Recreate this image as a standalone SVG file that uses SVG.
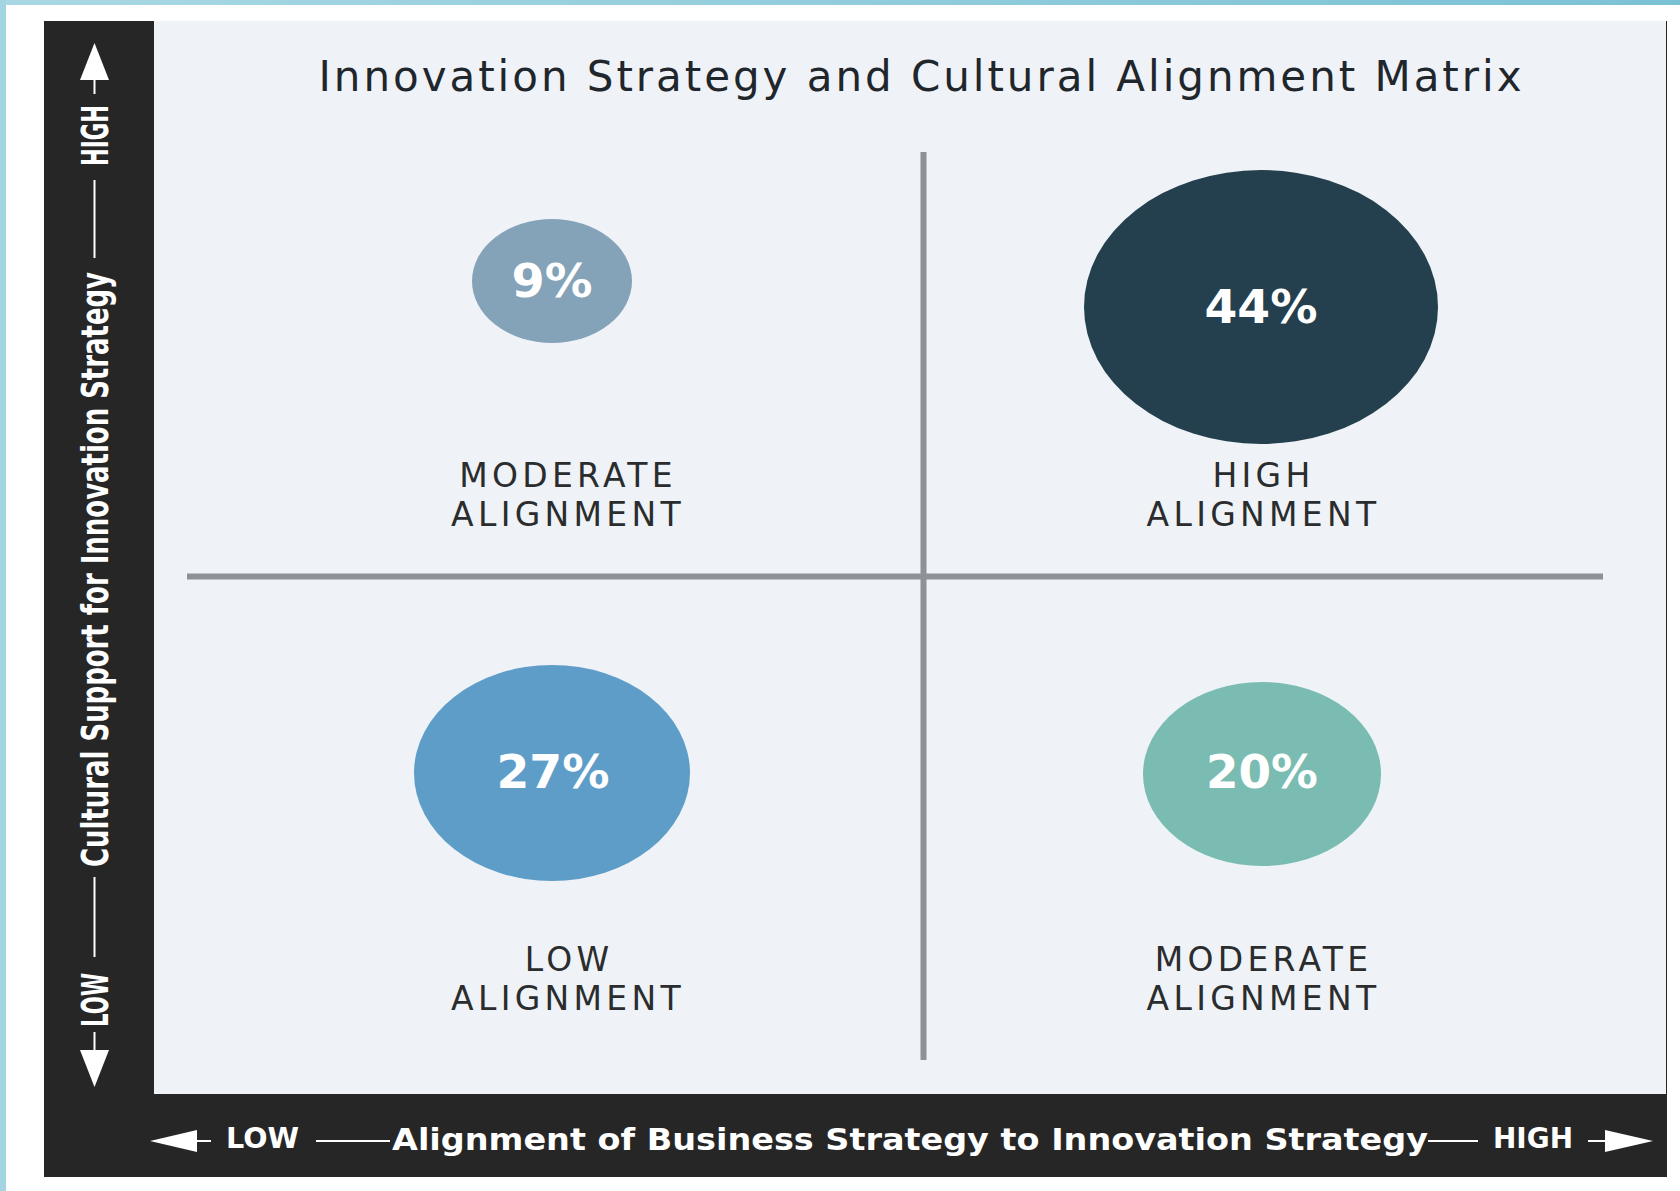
<svg xmlns="http://www.w3.org/2000/svg" width="1680" height="1191" viewBox="0 0 1680 1191">
  <defs>
    <linearGradient id="topband" x1="0" y1="0" x2="1" y2="0">
      <stop offset="0" stop-color="#a9d8e4"/>
      <stop offset="1" stop-color="#7bc1d5"/>
    </linearGradient>
    <style>
      .axis { font-family: "DejaVu Sans", "Liberation Sans", sans-serif; fill: #ffffff; }
      .vax { font-stretch: condensed; font-size: 38px; }
      .hax { font-weight: bold; }
      .pct { font-family: "DejaVu Sans", "Liberation Sans", sans-serif; font-weight: bold; font-size: 47px; fill: #ffffff; text-anchor: middle; }
      .lbl { font-family: "DejaVu Sans", "Liberation Sans", sans-serif; font-size: 33px; letter-spacing: 4.3px; fill: #2a2c2e; text-anchor: middle; }
      .title { font-family: "DejaVu Sans", "Liberation Sans", sans-serif; font-size: 42px; fill: #1f262c; text-anchor: middle; }
      .wline { stroke: #ffffff; stroke-width: 2; }
      .grid { stroke: #8e9296; stroke-width: 6; }
    </style>
  </defs>

  <!-- background and frame -->
  <rect x="0" y="0" width="1680" height="1191" fill="#ffffff"/>
  <rect x="0" y="0" width="1680" height="5" fill="url(#topband)"/>
  <rect x="0" y="0" width="6" height="1191" fill="#a3d5e1"/>
  <rect id="frame" x="44" y="21" width="1623" height="1156" fill="#262626"/>
  <rect id="plot" x="154" y="21" width="1512" height="1073" fill="#eff3f7"/>

  <!-- title -->
  <g id="title">
    <text class="title" x="920" y="91" textLength="1203" lengthAdjust="spacing">Innovation Strategy and Cultural Alignment Matrix</text>
  </g>

  <!-- quadrant grid -->
  <g id="connectors">
    <line class="grid" x1="923.5" y1="152" x2="923.5" y2="1060"/>
    <line class="grid" x1="187" y1="576.5" x2="1603" y2="576.5"/>
  </g>

  <!-- vertical axis -->
  <g id="y-axis">
    <polygon points="94.5,43 80,80 109,80" fill="#ffffff"/>
    <line class="wline" x1="94.5" y1="79" x2="94.5" y2="94"/>
    <text class="axis vax hax" transform="translate(108,135.5) rotate(-90)" text-anchor="middle" textLength="61" lengthAdjust="spacingAndGlyphs">HIGH</text>
    <line class="wline" x1="94.5" y1="180" x2="94.5" y2="258"/>
    <text class="axis vax hax" transform="translate(108,569.5) rotate(-90)" text-anchor="middle" textLength="595" lengthAdjust="spacingAndGlyphs">Cultural Support for Innovation Strategy</text>
    <line class="wline" x1="94.5" y1="877" x2="94.5" y2="957"/>
    <text class="axis vax hax" transform="translate(108,1000) rotate(-90)" text-anchor="middle" textLength="54" lengthAdjust="spacingAndGlyphs">LOW</text>
    <line class="wline" x1="94.5" y1="1032" x2="94.5" y2="1051"/>
    <polygon points="94.5,1087 80,1050 109,1050" fill="#ffffff"/>
  </g>

  <!-- horizontal axis -->
  <g id="x-axis">
    <polygon points="150,1141 197,1130 197,1152" fill="#ffffff"/>
    <line class="wline" x1="196" y1="1141" x2="211" y2="1141"/>
    <text class="axis hax" x="226" y="1148" font-size="28" textLength="73" lengthAdjust="spacingAndGlyphs">LOW</text>
    <line class="wline" x1="316" y1="1141" x2="390" y2="1141"/>
    <text class="axis hax" x="392" y="1150" font-size="31" textLength="1036" lengthAdjust="spacingAndGlyphs">Alignment of Business Strategy to Innovation Strategy</text>
    <line class="wline" x1="1428" y1="1141" x2="1478" y2="1141"/>
    <text class="axis hax" x="1493" y="1148" font-size="28" textLength="80" lengthAdjust="spacingAndGlyphs">HIGH</text>
    <line class="wline" x1="1588" y1="1141" x2="1606" y2="1141"/>
    <polygon points="1653,1141 1605,1130 1605,1152" fill="#ffffff"/>
  </g>

  <!-- quadrant nodes -->
  <g id="q-top-left">
    <ellipse cx="552" cy="281" rx="80" ry="62" fill="#84a3b8"/>
    <text class="pct" x="552" y="297" textLength="81" lengthAdjust="spacingAndGlyphs">9%</text>
    <text class="lbl"><tspan x="568" y="487">MODERATE</tspan><tspan x="568" y="525.5">ALIGNMENT</tspan></text>
  </g>

  <g id="q-top-right">
    <ellipse cx="1261" cy="307" rx="177" ry="137" fill="#24404e"/>
    <text class="pct" x="1261" y="323" textLength="113" lengthAdjust="spacingAndGlyphs">44%</text>
    <text class="lbl"><tspan x="1263.5" y="487">HIGH</tspan><tspan x="1263.5" y="525.5">ALIGNMENT</tspan></text>
  </g>

  <g id="q-bottom-left">
    <ellipse cx="552" cy="773" rx="138" ry="108" fill="#5f9dc9"/>
    <text class="pct" x="553" y="788" textLength="113" lengthAdjust="spacingAndGlyphs">27%</text>
    <text class="lbl"><tspan x="569" y="971">LOW</tspan><tspan x="568" y="1009.5">ALIGNMENT</tspan></text>
  </g>

  <g id="q-bottom-right">
    <ellipse cx="1262" cy="774" rx="119" ry="92" fill="#7abcb2"/>
    <text class="pct" x="1262" y="788" textLength="112" lengthAdjust="spacingAndGlyphs">20%</text>
    <text class="lbl"><tspan x="1263.5" y="971">MODERATE</tspan><tspan x="1263.5" y="1009.5">ALIGNMENT</tspan></text>
  </g>
</svg>
